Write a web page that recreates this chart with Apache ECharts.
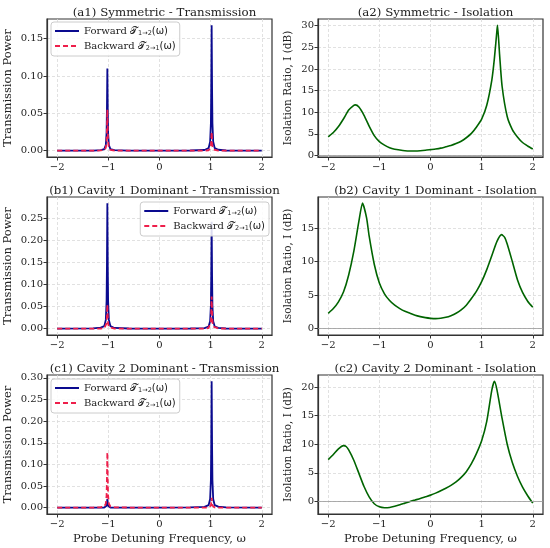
<!DOCTYPE html>
<html>
<head>
<meta charset="utf-8">
<script src="https://cdn.jsdelivr.net/npm/echarts@6/dist/echarts.min.js"></script>
<style>
  html, body { margin: 0; padding: 0; background: #fff; }
  #chart { width: 550px; height: 548px; }
</style>
</head>
<body>
<div id="chart"></div>
<script>
// transmission spectra: shared frequency samples (dense around the two resonances)
const xTrans = [-2, -1.3, -1.15, -1.08, -1.05, -1.035, -1.028, -1.02, -1.012, -1.005, -0.99, -0.96, -0.88, -0.6,
  0, 0.6, 0.88, 0.96, 0.99, 1.005, 1.012, 1.02, 1.028, 1.035, 1.05, 1.08, 1.15, 1.3, 2]

// (a1) symmetric
const fwdA = [0.0001, 0.0002, 0.0009, 0.0022, 0.0077, 0.024, 0.055, 0.110, 0.055, 0.024, 0.0077, 0.0022, 0.0007, 0.0002,
  0.0001, 0.0003, 0.001, 0.0034, 0.012, 0.037, 0.084, 0.168, 0.084, 0.037, 0.012, 0.0034, 0.0013, 0.0003, 0.0001]
const bwdA = [0.0001, 0.0001, 0.0004, 0.0011, 0.0039, 0.012, 0.028, 0.055, 0.028, 0.012, 0.0039, 0.0011, 0.0003, 0.0001,
  0.0001, 0.0001, 0.0002, 0.0005, 0.0018, 0.0055, 0.0125, 0.025, 0.0125, 0.0055, 0.0018, 0.0005, 0.0002, 0.0001, 0.0001]
// (b1) cavity 1 dominant
const fwdB = [0.0002, 0.0006, 0.0023, 0.0057, 0.02, 0.063, 0.142, 0.285, 0.142, 0.063, 0.02, 0.0057, 0.0017, 0.0005,
  0.0002, 0.0005, 0.0015, 0.0049, 0.017, 0.053, 0.121, 0.243, 0.121, 0.053, 0.017, 0.0049, 0.0019, 0.0005, 0.0002]
const bwdB = [0.0001, 0.0001, 0.0004, 0.0011, 0.0039, 0.012, 0.028, 0.055, 0.028, 0.012, 0.0039, 0.0011, 0.0003, 0.0001,
  0.0001, 0.0001, 0.0004, 0.0015, 0.0051, 0.016, 0.036, 0.073, 0.036, 0.016, 0.0051, 0.0015, 0.0006, 0.0001, 0.0001]
// (c1) cavity 2 dominant
const fwdC = [0.0001, 0.0001, 0.0002, 0.0004, 0.0014, 0.0044, 0.010, 0.020, 0.010, 0.0044, 0.0014, 0.0004, 0.0001, 0.0001,
  0.0001, 0.0006, 0.0018, 0.0058, 0.020, 0.064, 0.146, 0.292, 0.146, 0.064, 0.020, 0.0058, 0.0023, 0.0006, 0.0002]
const bwdC = [0.0001, 0.0003, 0.001, 0.0026, 0.009, 0.028, 0.064, 0.128, 0.064, 0.028, 0.009, 0.0026, 0.0008, 0.0003,
  0.0001, 0.0001, 0.0001, 0.0005, 0.0016, 0.005, 0.0115, 0.023, 0.0115, 0.005, 0.0016, 0.0005, 0.0002, 0.0001, 0.0001]

// isolation ratio curves (dB)
const xIsoA = [-2.0, -1.9, -1.8, -1.7, -1.6, -1.5, -1.47, -1.4, -1.3, -1.2, -1.1, -1.0, -0.9, -0.8, -0.7, -0.6, -0.5, -0.4,
  -0.3, -0.2, -0.1, 0.0, 0.1, 0.2, 0.3, 0.4, 0.5, 0.6, 0.7, 0.8, 0.9, 1.0, 1.1, 1.2, 1.25, 1.3, 1.31, 1.35, 1.4, 1.5,
  1.6, 1.7, 1.8, 1.9, 2.0]
const isoA = [4.3, 5.3, 6.7, 8.5, 10.5, 11.6, 11.7, 11.2, 9.3, 6.8, 4.6, 3.2, 2.4, 1.8, 1.45, 1.25, 1.1, 1.05,
  1.05, 1.1, 1.2, 1.35, 1.5, 1.7, 2.0, 2.3, 2.75, 3.3, 4.1, 5.1, 6.6, 8.4, 11.6, 17.5, 22.5, 29.0, 30.1, 23.5, 16.0, 9.0,
  6.0, 4.3, 3.0, 2.2, 1.5]

const xIsoB = [-2.0, -1.9, -1.8, -1.7, -1.6, -1.5, -1.4, -1.33, -1.25, -1.2, -1.1, -1.0, -0.9, -0.8, -0.7, -0.6, -0.5,
  -0.4, -0.3, -0.2, -0.1, 0.0, 0.1, 0.2, 0.3, 0.4, 0.5, 0.6, 0.7, 0.8, 0.9, 1.0, 1.1, 1.2, 1.3, 1.39, 1.45, 1.5, 1.6,
  1.7, 1.8, 1.9, 2.0]
const isoB = [2.3, 3.0, 4.0, 5.5, 8.0, 11.5, 16.0, 18.7, 16.5, 13.8, 9.6, 6.8, 5.2, 4.2, 3.5, 3.0, 2.6,
  2.3, 2.0, 1.8, 1.65, 1.55, 1.5, 1.55, 1.7, 1.95, 2.3, 2.8, 3.5, 4.5, 5.6, 7.0, 8.8, 10.9, 13.0, 14.0, 13.6, 12.6, 10.0,
  7.3, 5.4, 4.1, 3.2]

const xIsoC = [-2.0, -1.9, -1.8, -1.7, -1.65, -1.6, -1.5, -1.4, -1.3, -1.2, -1.1, -1.0, -0.9, -0.8, -0.7, -0.6, -0.5,
  -0.4, -0.3, -0.2, -0.1, 0.0, 0.1, 0.2, 0.3, 0.4, 0.5, 0.6, 0.7, 0.8, 0.9, 1.0, 1.1, 1.2, 1.25, 1.3, 1.4, 1.5, 1.6,
  1.7, 1.8, 1.9, 2.0]
const isoC = [7.3, 8.2, 9.2, 9.75, 9.6, 9.0, 7.2, 4.9, 2.6, 0.8, -0.4, -0.95, -1.1, -1.05, -0.85, -0.6, -0.3,
  0.0, 0.25, 0.5, 0.8, 1.1, 1.45, 1.85, 2.3, 2.8, 3.4, 4.2, 5.2, 6.6, 8.4, 10.6, 14.0, 19.5, 21.0, 19.5, 14.5, 10.0, 6.8,
  4.4, 2.5, 1.0, -0.3]

const xTicks = [-2, -1, 0, 1, 2]
const titles = [
  '(a1) Symmetric - Transmission', '(a2) Symmetric - Isolation',
  '(b1) Cavity 1 Dominant - Transmission', '(b2) Cavity 1 Dominant - Isolation',
  '(c1) Cavity 2 Dominant - Transmission', '(c2) Cavity 2 Dominant - Isolation'
]

const SERIF = 'DejaVu Serif'
const cols = [{ left: 47, width: 225 }, { left: 318, width: 225 }]
const rows = [{ top: 19, height: 138 }, { top: 197, height: 138 }, { top: 375, height: 139 }]

const zip = (xs, ys) => xs.map((x, i) => [x, ys[i]])
const fmtNum = (v, d) => v.toFixed(d).replace('-', '\u2212')

// y axis settings per panel
const yAxes = [
  { min: -0.0084, max: 0.1764, split: 4, ticks: [0, 0.05, 0.1, 0.15], d: 2, name: 'Transmission Power', gap: 33 },
  { min: -0.35, max: 31.55, split: 6, ticks: [0, 5, 10, 15, 20, 25, 30], d: 0, name: 'Isolation Ratio, I (dB)', gap: 24 },
  { min: -0.0143, max: 0.2993, split: 5, ticks: [0, 0.05, 0.1, 0.15, 0.2, 0.25], d: 2, name: 'Transmission Power', gap: 33 },
  { min: -0.93, max: 19.6, split: 4, ticks: [0, 5, 10, 15], d: 0, name: 'Isolation Ratio, I (dB)', gap: 24 },
  { min: -0.0146, max: 0.3066, split: 6, ticks: [0, 0.05, 0.1, 0.15, 0.2, 0.25, 0.3], d: 2, name: 'Transmission Power', gap: 33 },
  { min: -2.2, max: 22.1, split: 5, ticks: [0, 5, 10, 15, 20], d: 0, name: 'Isolation Ratio, I (dB)', gap: 24 }
]

const grids = [], xAxis = [], yAxis = [], title = [], series = [], legend = []

const axisCommon = {
  axisLine: { show: true, onZero: false, lineStyle: { color: '#333', width: 1.2 } },
  axisTick: { show: true, length: 3.5, lineStyle: { color: '#333', width: 1 } },
  splitLine: { show: true, lineStyle: { color: '#d9d9d9', type: [3, 2], width: 0.8 } },
  nameTextStyle: { fontFamily: SERIF, fontSize: 11.5, color: '#222' }
}

for (let i = 0; i < 6; i++) {
  const r = rows[Math.floor(i / 2)], c = cols[i % 2]
  grids.push({ left: c.left, top: r.top, width: c.width, height: r.height, show: true,
    borderColor: '#333', borderWidth: 1.2, backgroundColor: '#fff' })
  title.push({ text: titles[i], left: c.left + c.width / 2, top: r.top - 17, textAlign: 'center',
    textStyle: { fontFamily: SERIF, fontSize: 11.8, fontWeight: 'normal', color: '#222' } })
  xAxis.push({
    type: 'value', gridIndex: i, min: -2.2, max: 2.2, splitNumber: 5,
    ...axisCommon,
    axisTick: { ...axisCommon.axisTick, customValues: xTicks },
    axisLabel: { customValues: xTicks, fontFamily: SERIF, fontSize: 10, color: '#222', margin: 5,
      formatter: v => fmtNum(v, 0) },
    name: i >= 4 ? 'Probe Detuning Frequency, \u03c9' : '', nameLocation: 'middle', nameGap: 19
  })
  const ya = yAxes[i]
  yAxis.push({
    type: 'value', gridIndex: i, min: ya.min, max: ya.max, splitNumber: ya.split,
    ...axisCommon,
    axisTick: { ...axisCommon.axisTick, customValues: ya.ticks },
    axisLabel: { customValues: ya.ticks, fontFamily: SERIF, fontSize: 10, color: '#222', margin: 4,
      formatter: v => fmtNum(v, ya.d) },
    name: ya.name, nameLocation: 'middle', nameGap: ya.gap,
    nameTextStyle: { fontFamily: SERIF, fontSize: i % 2 ? 10.5 : 11.5, color: '#222' }
  })
}

const transData = [[fwdA, bwdA], [fwdB, bwdB], [fwdC, bwdC]]
const isoData = [[xIsoA, isoA], [xIsoB, isoB], [xIsoC, isoC]]

transData.forEach(([fwd, bwd], k) => {
  const idx = k * 2
  series.push({
    name: 'Forward', type: 'line', xAxisIndex: idx, yAxisIndex: idx, data: zip(xTrans, fwd),
    symbol: 'none', lineStyle: { color: '#0a0a8f', width: 1.8 }, itemStyle: { color: '#0a0a8f' }, z: 3
  })
  series.push({
    name: 'Backward', type: 'line', xAxisIndex: idx, yAxisIndex: idx, data: zip(xTrans, bwd),
    symbol: 'none', lineStyle: { color: '#ee1f4b', width: 1.8, type: [5, 3] }, itemStyle: { color: '#ee1f4b' }, z: 4
  })
})

isoData.forEach(([xs, ys], k) => {
  const idx = k * 2 + 1
  series.push({
    name: 'Isolation', type: 'line', xAxisIndex: idx, yAxisIndex: idx, data: zip(xs, ys),
    symbol: 'none', smooth: 0.2, lineStyle: { color: '#006400', width: 1.6 }, z: 3,
    markLine: { silent: true, symbol: 'none', label: { show: false },
      lineStyle: { color: '#999', width: 0.8, type: 'solid' }, data: [{ yAxis: 0 }] }
  })
})

const legendPos = [
  { left: 51, top: 22 },
  { right: 281, top: 202 },
  { left: 51, top: 379 }
]
const legendFmt = name => name === 'Forward'
  ? 'Forward {t|\ud835\udcaf}{s|1\u21922}{n|(\u03c9)}'
  : 'Backward {t|\ud835\udcaf}{s|2\u21921}{n|(\u03c9)}'

legendPos.forEach(p => {
  legend.push({
    data: ['Forward', 'Backward'], orient: 'vertical', ...p,
    itemWidth: 24, itemHeight: 10, itemGap: 4, padding: [4, 4, 4, 3],
    itemStyle: { opacity: 0 },
    borderColor: '#ccc', borderWidth: 1, borderRadius: 3, backgroundColor: 'rgba(255,255,255,0.85)',
    selectedMode: false, formatter: legendFmt,
    textStyle: { fontFamily: SERIF, fontSize: 10, color: '#222',
      rich: {
        t: { fontFamily: 'DejaVu Sans', fontSize: 10, color: '#222' },
        s: { fontFamily: 'DejaVu Sans', fontSize: 6.5, color: '#222', padding: [5, 0, 0, 0] },
        n: { fontFamily: 'DejaVu Sans', fontSize: 10, color: '#222' }
      } }
  })
})

const chart = echarts.init(document.getElementById('chart'), null, { renderer: 'canvas' })
chart.setOption({
  animation: false,
  backgroundColor: '#fff',
  title, grid: grids, xAxis, yAxis, legend, series
})
</script>
</body>
</html>
